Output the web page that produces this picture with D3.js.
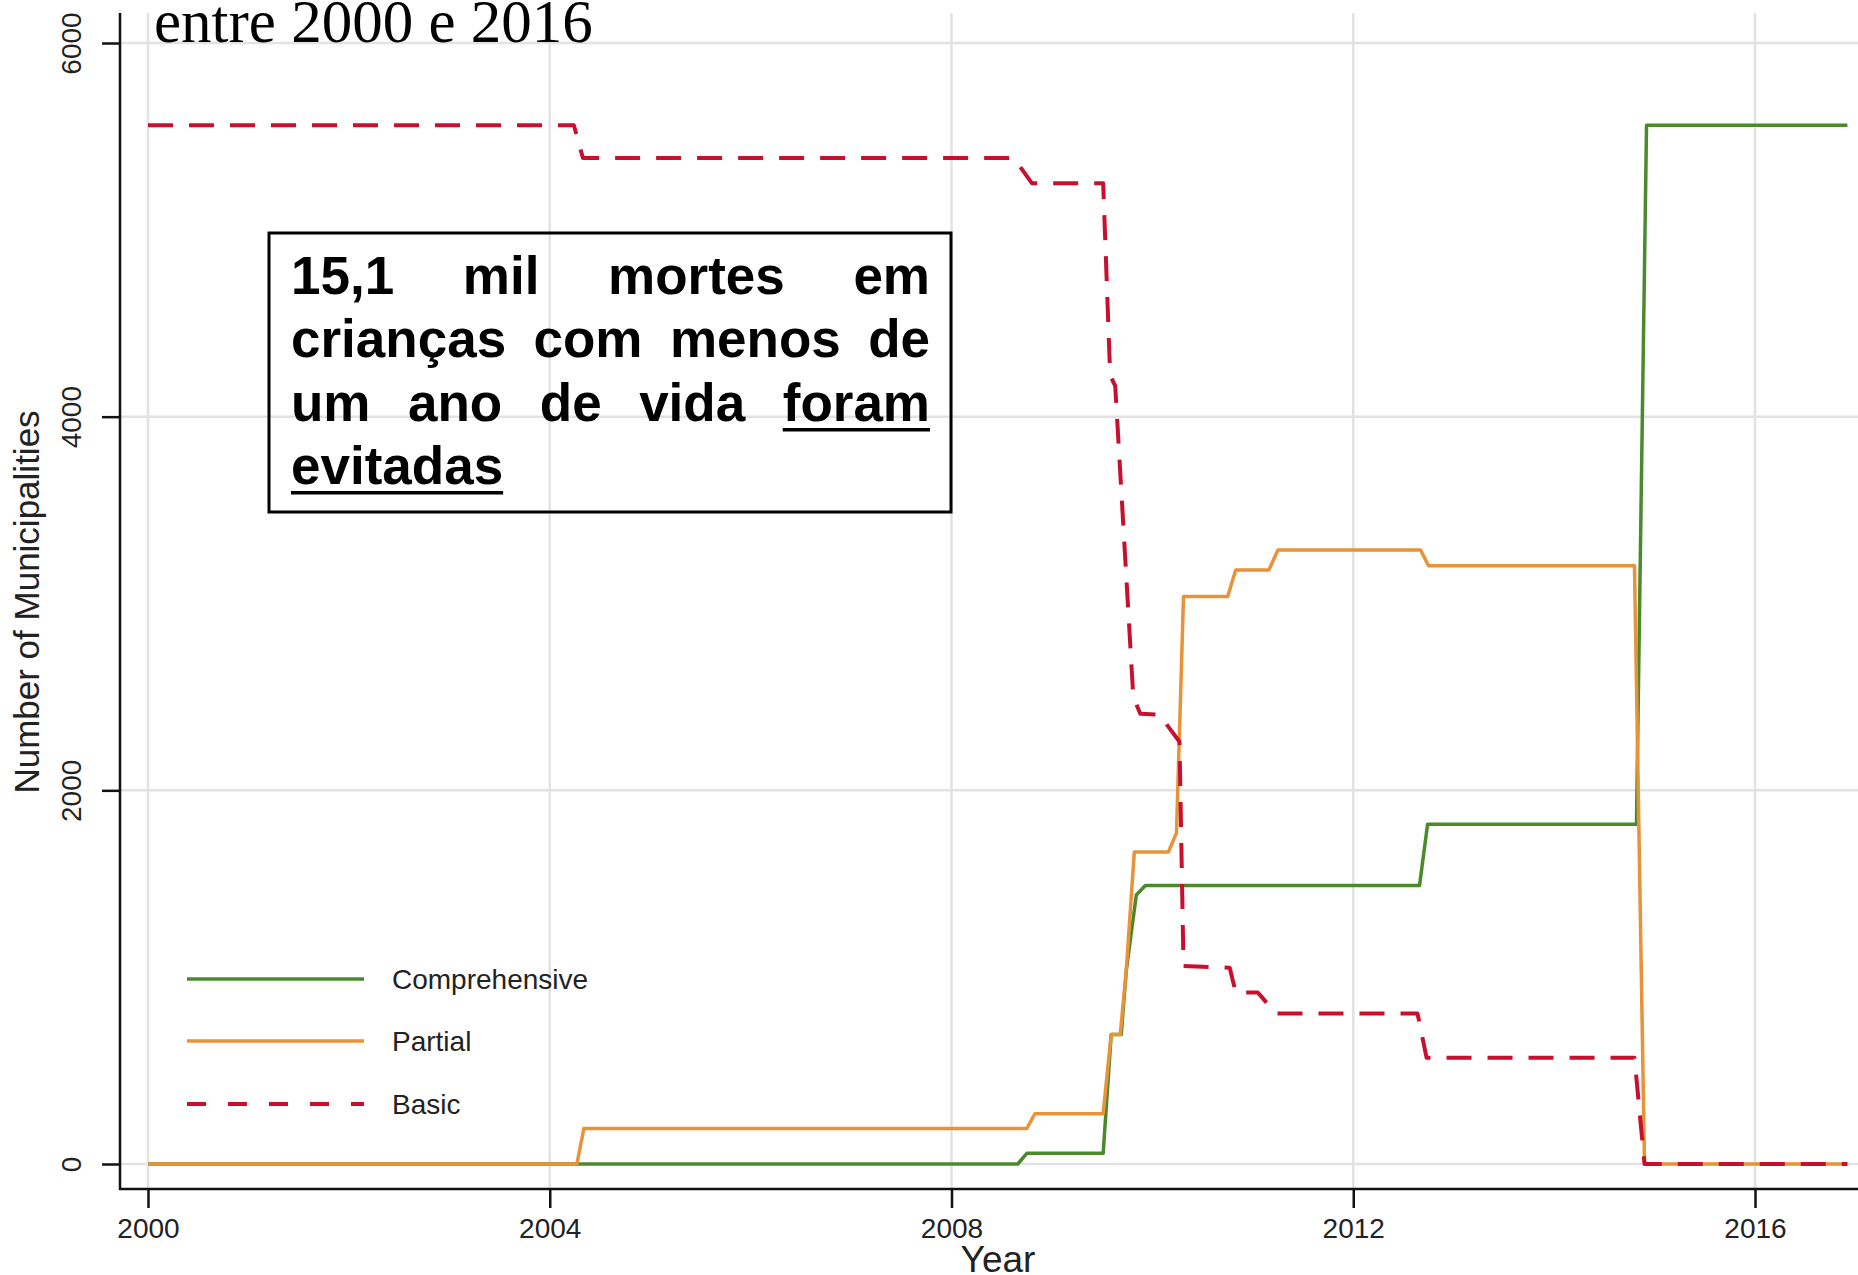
<!DOCTYPE html>
<html>
<head>
<meta charset="utf-8">
<script src="https://cdn.jsdelivr.net/npm/d3@7"></script>
<style>
    body { margin: 0; background: #fff; }
    #chart { width: 1858px; height: 1275px; overflow: hidden; }
</style>
</head>
<body>
<div id="chart"></div>
<script>

// values: [year, number of municipalities]
const comprehensive = [
    [2000, 0], [2008.66, 0], [2008.75, 57], [2009.51, 57], [2009.59, 693], [2009.69, 693],
    [2009.74, 1034], [2009.84, 1440], [2009.93, 1491], [2012.66, 1491], [2012.74, 1818],
    [2014.82, 1818], [2014.92, 5560], [2016.92, 5560]
];
const partial = [
    [2000, 0], [2004.27, 0], [2004.34, 190], [2008.75, 190], [2008.83, 269], [2009.51, 269],
    [2009.59, 693], [2009.68, 693], [2009.74, 1034], [2009.82, 1670], [2010.16, 1670],
    [2010.24, 1772], [2010.31, 3038], [2010.75, 3038], [2010.83, 3179], [2011.16, 3179],
    [2011.25, 3286], [2012.67, 3286], [2012.75, 3202], [2014.8, 3202], [2014.9, 0], [2016.92, 0]
];
const basic = [
    [2000, 5560], [2004.24, 5560], [2004.33, 5385], [2008.62, 5385], [2008.8, 5250],
    [2009.51, 5250], [2009.58, 4220], [2009.63, 4165], [2009.81, 2500], [2009.88, 2410],
    [2010.07, 2405], [2010.27, 2260], [2010.31, 1060], [2010.77, 1050], [2010.83, 918],
    [2011.05, 918], [2011.23, 805], [2012.64, 805], [2012.73, 569], [2014.8, 569],
    [2014.9, 0], [2016.92, 0]
];

const seriesNames = ["Comprehensive", "Partial", "Basic"];
const xTicks = [2000, 2004, 2008, 2012, 2016];
const yTicks = [0, 2000, 4000, 6000];

const titleText = "entre 2000 e 2016";
const boxLines = [
    ["15,1", "mil", "mortes", "em"],
    ["crianças", "com", "menos", "de"],
    ["um", "ano", "de", "vida", "foram"],
    ["evitadas"]
];
const underlinedWords = ["foram", "evitadas"];


class StepVis {

    constructor(parentElement, _data){
        this.parentElement = parentElement;
        this.data = _data;
        this.colors = ["#4b8a2c", "#e8923a", "#c8102e"];
        this.font = "'Liberation Sans', Arial, sans-serif";

        this.initVis()
    }

    initVis(){
        let vis = this;

        vis.width = 1858;
        vis.height = 1275;
        vis.plot = { left: 120, right: 1858, top: 13, bottom: 1189 };

        vis.svg = d3.select("#" + vis.parentElement).append("svg")
            .attr("width", vis.width)
            .attr("height", vis.height);

        vis.x = d3.scaleLinear()
            .domain([2000, 2016])
            .range([148, 1755]);

        vis.y = d3.scaleLinear()
            .domain([0, 6000])
            .range([1164, 43]);

        // grid
        vis.svg.append("g").selectAll("line.vgrid")
            .data(xTicks)
            .enter()
            .append("line")
            .attr("class", "vgrid")
            .attr("x1", d => vis.x(d))
            .attr("x2", d => vis.x(d))
            .attr("y1", vis.plot.top)
            .attr("y2", vis.plot.bottom)
            .attr("stroke", "#e2e2e2")
            .attr("stroke-width", 2.5);

        vis.svg.append("g").selectAll("line.hgrid")
            .data(yTicks)
            .enter()
            .append("line")
            .attr("class", "hgrid")
            .attr("x1", vis.plot.left)
            .attr("x2", vis.plot.right)
            .attr("y1", d => vis.y(d))
            .attr("y2", d => vis.y(d))
            .attr("stroke", "#e2e2e2")
            .attr("stroke-width", 2.5);

        // axes
        vis.yAxis = d3.axisLeft(vis.y)
            .tickValues(yTicks)
            .tickSize(18)
            .tickFormat(d3.format("d"));

        vis.xAxis = d3.axisBottom(vis.x)
            .tickValues(xTicks)
            .tickSize(19)
            .tickFormat(d3.format("d"));

        let gy = vis.svg.append("g")
            .attr("class", "axis y-axis")
            .attr("transform", `translate(${vis.plot.left},0)`)
            .call(vis.yAxis);

        gy.select(".domain").remove();
        gy.selectAll("line").attr("stroke", "#111").attr("stroke-width", 2.5);
        gy.selectAll("text")
            .attr("transform", "rotate(-90)")
            .attr("x", 0)
            .attr("y", -49)
            .attr("dy", "0.35em")
            .attr("text-anchor", "middle")
            .style("font-family", vis.font)
            .style("font-size", "28px")
            .attr("fill", "#222");

        let gx = vis.svg.append("g")
            .attr("class", "axis x-axis")
            .attr("transform", `translate(0,${vis.plot.bottom})`)
            .call(vis.xAxis);

        gx.select(".domain").remove();
        gx.selectAll("line").attr("stroke", "#111").attr("stroke-width", 2.5);
        gx.selectAll("text")
            .attr("y", 29)
            .style("font-family", vis.font)
            .style("font-size", "28px")
            .attr("fill", "#222");

        vis.svg.append("line")
            .attr("x1", vis.plot.left).attr("x2", vis.plot.left)
            .attr("y1", vis.plot.top).attr("y2", vis.plot.bottom + 1)
            .attr("stroke", "#111").attr("stroke-width", 2.5);

        vis.svg.append("line")
            .attr("x1", vis.plot.left - 1).attr("x2", vis.plot.right)
            .attr("y1", vis.plot.bottom).attr("y2", vis.plot.bottom)
            .attr("stroke", "#111").attr("stroke-width", 2.5);

        // axis titles
        vis.svg.append("text")
            .attr("transform", "translate(39,602) rotate(-90)")
            .attr("text-anchor", "middle")
            .style("font-family", vis.font)
            .style("font-size", "35px")
            .attr("fill", "#222")
            .text("Number of Municipalities");

        vis.svg.append("text")
            .attr("x", 998)
            .attr("y", 1272)
            .attr("text-anchor", "middle")
            .style("font-family", vis.font)
            .style("font-size", "37px")
            .attr("fill", "#222")
            .text("Year");

        vis.line = d3.line()
            .x(d => vis.x(d[0]))
            .y(d => vis.y(d[1]));

        vis.lineLayer = vis.svg.append("g");

        vis.drawLegend();
        vis.drawOverlay();

        this.updateVis();
    }

    drawLegend(){
        let vis = this;

        let rows = [979, 1041, 1104];

        vis.legend = vis.svg.append("g").attr("class", "legend");

        vis.legend.selectAll("line")
            .data(seriesNames)
            .enter()
            .append("line")
            .attr("x1", 187)
            .attr("x2", 364)
            .attr("y1", (d, i) => rows[i])
            .attr("y2", (d, i) => rows[i])
            .attr("stroke", (d, i) => vis.colors[i])
            .attr("stroke-width", (d, i) => i == 2 ? 4 : 3.5)
            .attr("stroke-dasharray", (d, i) => i == 2 ? "19,22" : null);

        vis.legend.selectAll("text")
            .data(seriesNames)
            .enter()
            .append("text")
            .attr("x", 392)
            .attr("y", (d, i) => rows[i])
            .attr("dy", "0.36em")
            .style("font-family", vis.font)
            .style("font-size", "28px")
            .attr("fill", "#222")
            .text(d => d);
    }

    drawOverlay(){
        let vis = this;

        // heading, cut at the top as in the source image
        vis.svg.append("text")
            .attr("x", 154)
            .attr("y", 42)
            .style("font-family", "'Liberation Serif', 'Times New Roman', serif")
            .style("font-size", "61px")
            .attr("fill", "#000")
            .text(titleText);

        // boxed note, justified
        vis.svg.append("rect")
            .attr("x", 269)
            .attr("y", 233)
            .attr("width", 682)
            .attr("height", 279)
            .attr("fill", "none")
            .attr("stroke", "#000")
            .attr("stroke-width", 3);

        let left = 291, right = 930;
        let baselines = [294, 357, 421, 484];

        boxLines.forEach(function(words, li){
            let texts = words.map(function(w){
                return vis.svg.append("text")
                    .attr("y", baselines[li])
                    .style("font-family", vis.font)
                    .style("font-size", "53px")
                    .style("font-weight", "bold")
                    .attr("fill", "#000")
                    .text(w);
            });

            let widths = texts.map(t => t.node().getComputedTextLength());
            let gap = 14;
            if (li < boxLines.length - 1 && words.length > 1){
                gap = (right - left - d3.sum(widths)) / (words.length - 1);
            }

            let cx = left;
            texts.forEach(function(t, i){
                t.attr("x", cx);
                if (underlinedWords.includes(words[i])){
                    vis.svg.append("rect")
                        .attr("x", cx)
                        .attr("y", baselines[li] + 7)
                        .attr("width", widths[i])
                        .attr("height", 3.5)
                        .attr("fill", "#000");
                }
                cx += widths[i] + gap;
            });
        });
    }

    updateVis(){
        let vis = this;

        vis.lineLayer.selectAll(".series")
            .data(vis.data)
            .enter()
            .append("path")
            .attr("class", "series")
            .attr("d", d => vis.line(d))
            .attr("fill", "none")
            .attr("stroke", (d, i) => vis.colors[i])
            .attr("stroke-width", (d, i) => i == 2 ? 4 : 3.5)
            .attr("stroke-dasharray", (d, i) => i == 2 ? "25,16" : null)
            .attr("stroke-linejoin", "round");
    }
}

new StepVis("chart", [comprehensive, partial, basic]);

</script>
</body>
</html>
